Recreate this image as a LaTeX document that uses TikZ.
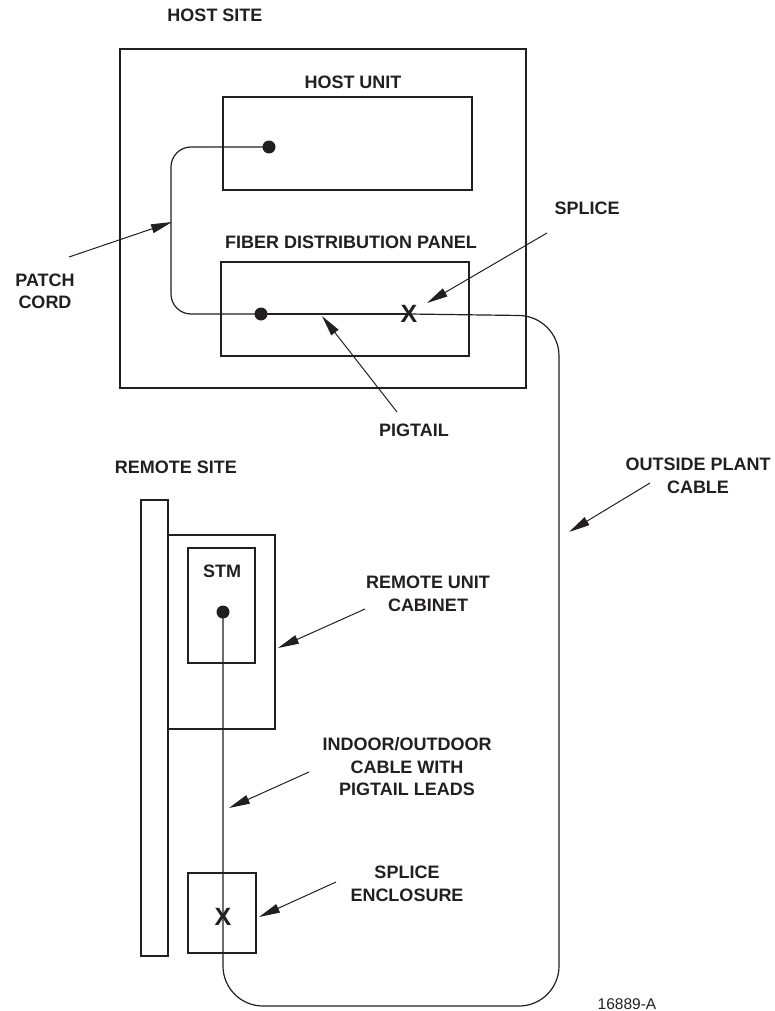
\documentclass[tikz,border=0pt]{standalone}
\usepackage{fontspec}
\setmainfont{Liberation Sans}
\usetikzlibrary{arrows.meta}
\definecolor{ink}{RGB}{35,31,32}
\begin{document}
\begin{tikzpicture}[x=1pt,y=-1pt,
  lab/.style={font=\bfseries\fontsize{18}{22.5}\selectfont, text=ink, inner sep=0pt, align=center},
  box/.style={draw=ink, line width=1.2pt, inner sep=0pt, outer sep=0pt},
  dot/.style={circle, fill=ink, inner sep=0pt, minimum size=13pt},
  xmark/.style={font=\bfseries\fontsize{25}{25}\selectfont, text=ink, inner sep=0pt},
  cable/.style={draw=ink, line width=1.2pt},
  pointer/.style={draw=ink, line width=1pt, -{Triangle[length=21pt,width=9pt]}}]
\useasboundingbox (0,0) rectangle (775,1011);
% host site
\node[lab] (hostsite) at (215,15) {HOST SITE};
\node[box, line width=2.6pt, minimum width=406pt, minimum height=339pt] (host) at (323,218.5) {};
\node[lab] (hulab) at (353,82) {HOST UNIT};
\node[box, minimum width=249pt, minimum height=93pt] (hu) at (347.5,143.5) {};
\node[lab] (fdplab) at (351,242) {FIBER DISTRIBUTION PANEL};
\node[box, minimum width=248pt, minimum height=94pt] (fdp) at (345,309) {};
\node[lab] (patchlab) at (45,291.5) {PATCH\\CORD};
\node[lab] (splicelab) at (587,208) {SPLICE};
\node[lab] (pigtaillab) at (414,430) {PIGTAIL};
% remote site
\node[lab] (remotesite) at (176,467) {REMOTE SITE};
\node[lab] (osplab) at (698,476) {OUTSIDE PLANT\\CABLE};
\node[box, minimum width=27pt, minimum height=456pt] (wall) at (154.5,728) {};
\node[box, minimum width=107pt, minimum height=194pt] (cab) at (221.5,632) {};
\node[box, minimum width=67pt, minimum height=115pt] (stm) at (221.5,605.5) {};
\node[lab] (stmlab) at (222,571) {STM};
\node[lab] (cablab) at (428,594) {REMOTE UNIT\\CABINET};
\node[lab] (iolab) at (407,767) {INDOOR/OUTDOOR\\CABLE WITH\\PIGTAIL LEADS};
\node[box, minimum width=68pt, minimum height=80pt] (enc) at (222,913) {};
\node[lab] (enclab) at (407,884) {SPLICE\\ENCLOSURE};
\node[font=\fontsize{15.5}{15.5}\selectfont, text=ink, inner sep=0pt] (fig) at (627,1004) {16889-A};
% points
\node[dot] (hudot) at (269,147) {};
\node[dot] (fdpdot) at (261,314) {};
\node[xmark] (fdpx) at (409,314) {X};
\node[dot] (stmdot) at (223,612) {};
\node[xmark] (encx) at (223,917) {X};
% cables
\draw[cable, rounded corners=20pt] (hudot.center) -- (171,147) -- (171,314) -- (fdpdot.center);
\draw[cable] (fdpdot.center) -- (fdpx.center);
\draw[cable, rounded corners=40pt] (fdpx.center) -- (559,316) -- (559,1006) -- (223,1006) -- (encx.center) -- (stmdot.center);
% pointers
\coordinate (patchtail) at (69,257);   \coordinate (patchtip) at (172,222);
\coordinate (splicetail) at (547,233); \coordinate (splicetip) at (427,303);
\coordinate (pigtail) at (397,412);    \coordinate (pigtip) at (322,316);
\coordinate (osptail) at (650,483);    \coordinate (osptip) at (569,532);
\coordinate (cabtail) at (365,609);    \coordinate (cabtip) at (278,648);
\coordinate (iotail) at (309,772);     \coordinate (iotip) at (229,808);
\coordinate (enctail) at (336,882);    \coordinate (enctip) at (259,917);
\draw[pointer] (patchtail) -- (patchtip);
\draw[pointer] (splicetail) -- (splicetip);
\draw[pointer] (pigtail) -- (pigtip);
\draw[pointer] (osptail) -- (osptip);
\draw[pointer] (cabtail) -- (cabtip);
\draw[pointer] (iotail) -- (iotip);
\draw[pointer] (enctail) -- (enctip);
\end{tikzpicture}
\end{document}
